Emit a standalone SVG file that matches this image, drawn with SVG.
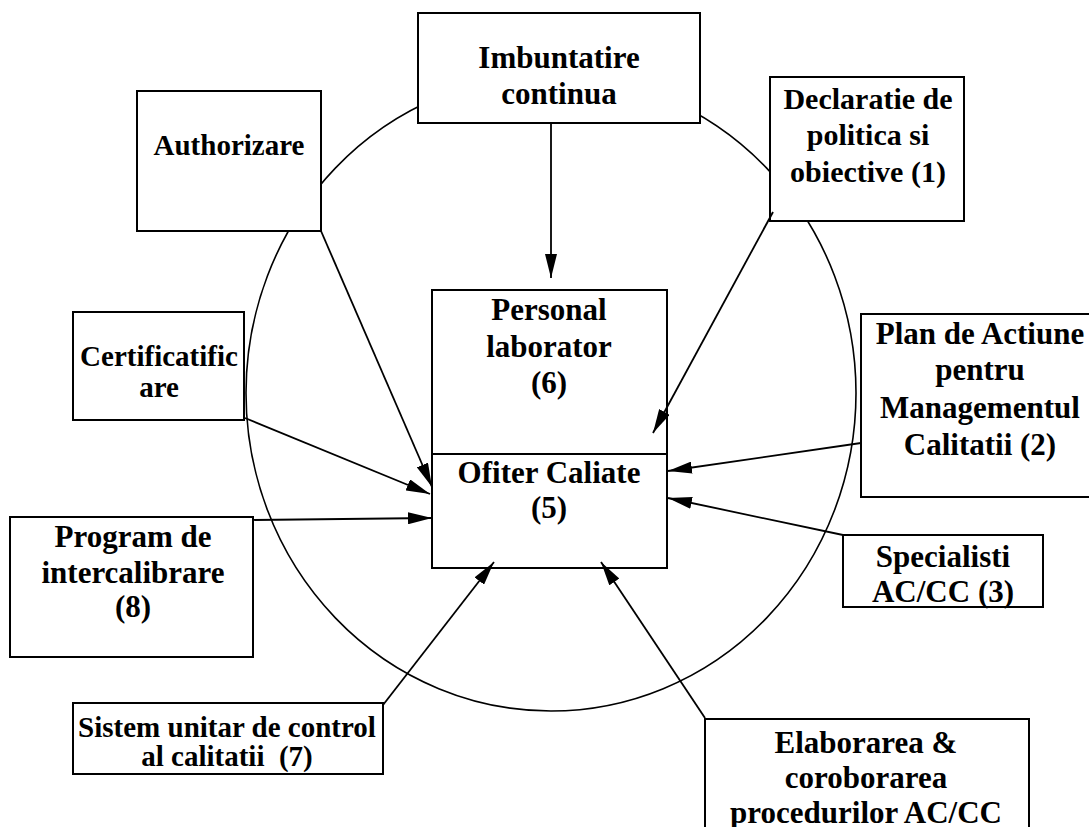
<svg xmlns="http://www.w3.org/2000/svg" width="1089" height="827" viewBox="0 0 1089 827">
  <style>
    .box { fill: #ffffff; stroke: #000000; stroke-width: 2; }
    .ring { fill: none; stroke: #000000; stroke-width: 1.6; }
    .link { fill: none; stroke: #000000; stroke-width: 1.8; marker-end: url(#head); }
    .lbl text { font-family: 'Liberation Serif', 'DejaVu Serif', serif; font-weight: 700; fill: #000000; text-anchor: middle; }
    .t31 { font-size: 31px; }
    .t30 { font-size: 30px; }
    .t29 { font-size: 29px; }
  </style>
  <defs>
    <marker id="head" markerUnits="userSpaceOnUse" markerWidth="24" markerHeight="12" refX="24" refY="6" orient="auto">
      <path d="M0,0 L24,6 L0,12 Z" fill="#000000"/>
    </marker>
  </defs>

  <rect width="1089" height="827" fill="#ffffff"/>

  <!-- background ring -->
  <ellipse class="ring" cx="551" cy="393" rx="305" ry="318"/>

  <g class="lbl" font-family="Liberation Serif, DejaVu Serif, serif" font-weight="bold">
  <!-- central block: laboratory staff above the quality officer -->
  <g id="personal-laborator">
    <rect class="box" x="432" y="290" width="235" height="164"/>
    <text class="t31" x="549" y="320">Personal</text>
    <text class="t31" x="549" y="357">laborator</text>
    <text class="t31" x="549" y="393">(6)</text>
  </g>
  <g id="ofiter-calitate">
    <rect class="box" x="432" y="454" width="235" height="114"/>
    <text class="t31" x="549" y="483">Ofiter Caliate</text>
    <text class="t31" x="549" y="518">(5)</text>
  </g>

  <g id="imbuntatire">
    <rect class="box" x="418" y="13" width="282" height="110"/>
    <text class="t31" x="559" y="68">Imbuntatire</text>
    <text class="t31" x="559" y="104">continua</text>
  </g>

  <g id="authorizare">
    <rect class="box" x="137" y="91" width="184" height="140"/>
    <text class="t29" x="229" y="155">Authorizare</text>
  </g>

  <g id="declaratie">
    <rect class="box" x="770" y="77" width="194" height="144"/>
    <text class="t30" x="868" y="109">Declaratie de</text>
    <text class="t30" x="868" y="145">politica si</text>
    <text class="t30" x="868" y="182">obiective (1)</text>
  </g>

  <g id="certificare">
    <rect class="box" x="73" y="312" width="171" height="108"/>
    <text class="t29" x="159" y="366">Certificatific</text>
    <text class="t29" x="159" y="397">are</text>
  </g>

  <g id="plan-actiune">
    <rect class="box" x="861" y="314" width="240" height="183"/>
    <text class="t31" x="980" y="344">Plan de Actiune</text>
    <text class="t31" x="980" y="380">pentru</text>
    <text class="t31" x="980" y="418">Managementul</text>
    <text class="t31" x="980" y="455">Calitatii (2)</text>
  </g>

  <g id="program-intercalibrare">
    <rect class="box" x="10" y="517" width="243" height="140"/>
    <text class="t31" x="133" y="547">Program de</text>
    <text class="t31" x="133" y="583">intercalibrare</text>
    <text class="t31" x="133" y="617">(8)</text>
  </g>

  <g id="specialisti">
    <rect class="box" x="843" y="535" width="200" height="72"/>
    <text class="t31" x="943" y="567">Specialisti</text>
    <text class="t31" x="943" y="602">AC/CC (3)</text>
  </g>

  <g id="sistem-control">
    <rect class="box" x="73" y="703" width="310" height="71"/>
    <text class="t29" x="227" y="737">Sistem unitar de control</text>
    <text class="t29" x="227" y="766" xml:space="preserve">al calitatii  (7)</text>
  </g>

  <g id="elaborare-proceduri">
    <rect class="box" x="705" y="719" width="324" height="130"/>
    <text class="t31" x="866" y="753">Elaborarea &amp;</text>
    <text class="t31" x="866" y="788">coroborarea</text>
    <text class="t31" x="866" y="823">procedurilor AC/CC</text>
  </g>
  </g>

  <!-- connectors -->
  <g id="connectors">
    <line class="link" x1="551" y1="123" x2="551" y2="278"/>
    <line class="link" x1="321" y1="231" x2="432" y2="487"/>
    <line class="link" x1="245" y1="418" x2="430" y2="494"/>
    <line class="link" x1="253" y1="520" x2="432" y2="518"/>
    <line class="link" x1="383" y1="705" x2="494" y2="562"/>
    <line class="link" x1="705" y1="718" x2="601" y2="562"/>
    <line class="link" x1="773" y1="212" x2="653" y2="433"/>
    <line class="link" x1="861" y1="443" x2="668" y2="471"/>
    <line class="link" x1="843" y1="535" x2="668" y2="498"/>
  </g>
</svg>
